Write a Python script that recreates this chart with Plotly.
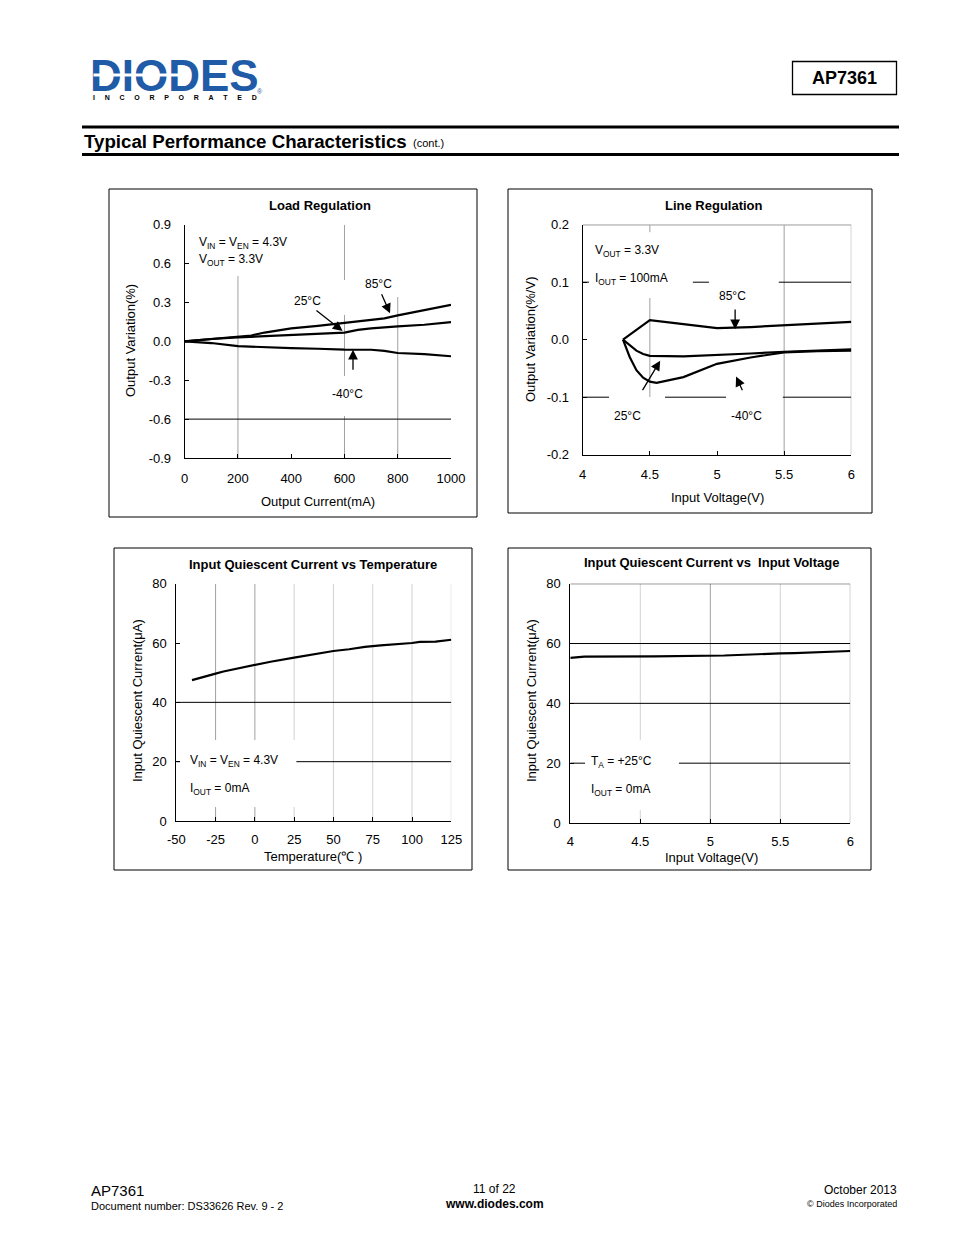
import plotly.graph_objects as go

OFF = 8  # page body margin of the html page
W, H = 954 - OFF, 1235 - OFF
FONT = "Arial, 'Liberation Sans', sans-serif"

# ---------------- data ----------------
# Load Regulation (Output Current mA vs Output Variation %)
load_x_85 = [0, 100, 200, 250, 300, 400, 500, 600, 700, 750, 800, 900, 1000]
load_y_85 = [0, 0.018, 0.031, 0.045, 0.068, 0.100, 0.120, 0.143, 0.162, 0.177, 0.200, 0.243, 0.282]
load_x_25 = [0, 100, 200, 300, 400, 500, 600, 650, 700, 800, 900, 1000]
load_y_25 = [0, 0.018, 0.030, 0.039, 0.047, 0.058, 0.068, 0.088, 0.100, 0.115, 0.128, 0.148]
load_x_m40 = [0, 100, 200, 300, 400, 500, 600, 700, 750, 800, 900, 1000]
load_y_m40 = [0, -0.013, -0.037, -0.047, -0.052, -0.057, -0.064, -0.065, -0.073, -0.090, -0.099, -0.115]

# Line Regulation (Input Voltage V vs Output Variation %/V)
line_x_85 = [4.3, 4.5, 4.75, 5.0, 5.25, 5.5, 5.75, 6.0]
line_y_85 = [0.0, 0.034, 0.027, 0.020, 0.022, 0.025, 0.028, 0.031]
line_x_25 = [4.3, 4.35, 4.4, 4.45, 4.5, 4.75, 5.0, 5.25, 5.5, 5.75, 6.0]
line_y_25 = [0.0, -0.010, -0.019, -0.025, -0.028, -0.029, -0.027, -0.024, -0.021, -0.019, -0.017]
line_x_m40 = [4.3, 4.35, 4.4, 4.45, 4.5, 4.55, 4.75, 5.0, 5.25, 5.5, 5.75, 6.0]
line_y_m40 = [0.0, -0.030, -0.053, -0.066, -0.073, -0.075, -0.065, -0.042, -0.031, -0.022, -0.020, -0.019]

# Input Quiescent Current vs Temperature
temp_c = [-40, -35, -30, -25, -20, -10, 0, 10, 25, 40, 50, 60, 70, 80, 90, 100, 105, 115, 125]
iq_temp = [47.5, 48.3, 49.0, 49.7, 50.4, 51.5, 52.8, 53.7, 55.1, 56.4, 57.3, 57.9, 58.7, 59.2, 59.5, 60.0, 60.4, 60.5, 61.1]

# Input Quiescent Current vs Input Voltage
vin_v = [4.0, 4.1, 4.6, 5.1, 5.5, 5.6, 6.0]
iq_vin = [55.2, 55.6, 55.7, 56.0, 56.7, 56.8, 57.5]

# tick labels
load_xticks = [0, 200, 400, 600, 800, 1000]
load_yticks = [0.9, 0.6, 0.3, 0.0, -0.3, -0.6, -0.9]
load_yticktext = ["0.9", "0.6", "0.3", "0.0", "-0.3", "-0.6", "-0.9"]
line_xticks = [4, 4.5, 5, 5.5, 6]
line_xticktext = ["4", "4.5", "5", "5.5", "6"]
line_yticks = [0.2, 0.1, 0.0, -0.1, -0.2]
line_yticktext = ["0.2", "0.1", "0.0", "-0.1", "-0.2"]
temp_xticks = [-50, -25, 0, 25, 50, 75, 100, 125]
temp_xticktext = ["-50", "-25", "0", "25", "50", "75", "100", "125"]
iq_yticks = [0, 20, 40, 60, 80]
vin_xticks = [4, 4.5, 5, 5.5, 6]
vin_xticktext = ["4", "4.5", "5", "5.5", "6"]

# ---------------- helpers ----------------
def fx(p):
    return (p - OFF) / W

def fy(p):
    return 1 - (p - OFF) / H

# plot areas in page pixels (left, right, top, bottom)
areas = {
    1: (184.7, 451.0, 224.7, 458.0),
    2: (582.7, 851.3, 224.7, 454.7),
    3: (176.3, 451.3, 583.7, 821.0),
    4: (570.3, 850.3, 583.7, 823.0),
}

fig = go.Figure()

def add_line(n, xs, ys):
    fig.add_trace(go.Scatter(
        x=xs, y=ys, mode="lines",
        line=dict(color="black", width=2.2),
        xaxis="x" if n == 1 else f"x{n}",
        yaxis="y" if n == 1 else f"y{n}",
        showlegend=False, hoverinfo="skip"))

add_line(1, load_x_85, load_y_85)
add_line(1, load_x_25, load_y_25)
add_line(1, load_x_m40, load_y_m40)
add_line(2, line_x_85, line_y_85)
add_line(2, line_x_25, line_y_25)
add_line(2, line_x_m40, line_y_m40)
add_line(3, temp_c, iq_temp)
add_line(4, vin_v, iq_vin)

def axis_common():
    return dict(showgrid=False, zeroline=False, showline=True, linecolor="black",
                linewidth=1, ticks="inside", ticklen=4, tickcolor="black",
                automargin=False,
                tickfont=dict(family=FONT, size=13, color="black"))

def set_axes(n, xr, yr, xt, xtt, yt, ytt, xstand, ystand):
    l, r, t, b = areas[n]
    xa = axis_common()
    xa.update(domain=[fx(l), fx(r)], range=xr, tickvals=xt, ticktext=xtt,
              anchor="y" if n == 1 else f"y{n}", ticklabelstandoff=xstand)
    ya = axis_common()
    ya.update(domain=[fy(b), fy(t)], range=yr, tickvals=yt, ticktext=ytt,
              anchor="x" if n == 1 else f"x{n}", ticklabelstandoff=ystand)
    key = "" if n == 1 else str(n)
    fig.update_layout(**{f"xaxis{key}": xa, f"yaxis{key}": ya})

set_axes(1, [0, 1000], [-0.9, 0.9], load_xticks, [str(v) for v in load_xticks],
         load_yticks, load_yticktext, 8, 10)
set_axes(2, [4, 6], [-0.2, 0.2], line_xticks, line_xticktext,
         line_yticks, line_yticktext, 8, 10)
set_axes(3, [-50, 125], [0, 80], temp_xticks, temp_xticktext,
         iq_yticks, [str(v) for v in iq_yticks], 6, 6)
set_axes(4, [4, 6], [0, 80], vin_xticks, vin_xticktext,
         iq_yticks, [str(v) for v in iq_yticks], 6, 6)

shapes = []

def seg(n, x0, y0, x1, y1, color="black", width=1):
    key = "" if n == 1 else str(n)
    shapes.append(dict(type="line", xref=f"x{key}", yref=f"y{key}",
                       x0=x0, y0=y0, x1=x1, y1=y1, layer="below",
                       line=dict(color=color, width=width)))

def pbox(x0, y0, x1, y1, width=1):
    shapes.append(dict(type="rect", xref="paper", yref="paper",
                       x0=fx(x0), y0=fy(y0), x1=fx(x1), y1=fy(y1),
                       line=dict(color="black", width=width)))

def pline(x0, y0, x1, y1, width=1, color="black"):
    shapes.append(dict(type="line", xref="paper", yref="paper",
                       x0=fx(x0), y0=fy(y0), x1=fx(x1), y1=fy(y1),
                       line=dict(color=color, width=width)))

G1 = "#a0a0a0"
G2 = "#d2d2d2"

# chart 1 gridlines
seg(1, 200, 0.504, 200, -0.9, G1)
seg(1, 600, 0.9, 600, 0.473, G1)
seg(1, 600, 0.204, 600, -0.267, G1)
seg(1, 600, -0.576, 600, -0.9, G1)
seg(1, 800, 0.342, 800, -0.9, G1)
seg(1, 0, -0.6, 1000, -0.6)

# chart 2 gridlines
seg(2, 4, 0.2, 6, 0.2)
seg(2, 4.5, 0.2, 4.5, 0.187, G1)
seg(2, 4.5, 0.0725, 4.5, -0.0997, G1)
seg(2, 5.5, 0.2, 5.5, -0.2, G1)
seg(2, 6, 0.2, 6, -0.2, G1)
seg(2, 4, 0.1, 4.047, 0.1)
seg(2, 4.82, 0.1, 4.94, 0.1)
seg(2, 5.46, 0.1, 6, 0.1)
seg(2, 4, -0.1, 4.196, -0.1)
seg(2, 4.613, -0.1, 5.067, -0.1)
seg(2, 5.49, -0.1, 6, -0.1)

# chart 3 gridlines
for xv, c in [(-25, G1), (0, G1), (25, G2)]:
    seg(3, xv, 80, xv, 27.3, c)
    seg(3, xv, 4.7, xv, 0, c)
for xv in [50, 75, 100, 125]:
    seg(3, xv, 80, xv, 0, G2)
seg(3, -50, 40, 125, 40)
seg(3, -50, 20, -47.6, 20)
seg(3, 26.4, 20, 125, 20)

# chart 4 gridlines
seg(4, 4.5, 80, 4.5, 27.7, G2)
seg(4, 4.5, 4.3, 4.5, 0, G2)
seg(4, 5.0, 80, 5.0, 0, G1)
seg(4, 5.5, 80, 5.5, 0, G2)
seg(4, 6.0, 80, 6.0, 0, G1)
seg(4, 4, 80, 6, 80)
seg(4, 4, 60, 6, 60)
seg(4, 4, 40, 6, 40)
seg(4, 4, 20, 4.105, 20)
seg(4, 4.776, 20, 6, 20)

# outer boxes
pbox(109, 189, 477, 517)
pbox(508, 189, 872, 513)
pbox(114, 548, 472, 870)
pbox(508, 548, 871, 870)

# header
pbox(792.5, 61.5, 896.5, 94.5, width=1.3)
pline(82, 127, 899, 127, width=3)
pline(82, 154.5, 899, 154.5, width=3)

fig.update_layout(shapes=shapes)

ann = []

def ptext(x, y, text, size=12, anchor="center", bold=False, color="black", angle=0,
          family=FONT, **kw):
    if bold:
        text = f"<b>{text}</b>"
    d = dict(xref="paper", yref="paper", x=fx(x), y=fy(y), text=text,
             showarrow=False, xanchor=anchor, yanchor="middle",
             textangle=angle, borderpad=0,
             font=dict(family=family, size=size, color=color))
    d.update(kw)
    ann.append(d)

def dtext(n, x, y, text, size=12, anchor="center"):
    key = "" if n == 1 else str(n)
    ann.append(dict(xref=f"x{key}", yref=f"y{key}", x=x, y=y, text=text,
                    showarrow=False, xanchor=anchor, yanchor="middle", borderpad=0,
                    font=dict(family=FONT, size=size, color="black")))

def arrow(n, xt, yt, xh, yh):
    key = "" if n == 1 else str(n)
    ann.append(dict(xref=f"x{key}", yref=f"y{key}", axref=f"x{key}", ayref=f"y{key}",
                    x=xh, y=yh, ax=xt, ay=yt, text="", showarrow=True,
                    arrowhead=2, arrowsize=1.5, arrowwidth=1.3, arrowcolor="black",
                    standoff=0, startstandoff=0))

# chart titles / axis titles
ptext(320, 206, "Load Regulation", 13, bold=True)
ptext(318, 501, "Output Current(mA)", 13)
ptext(131, 341, "Output Variation(%)", 13, angle=-90)
ptext(714, 205, "Line Regulation", 13, bold=True)
ptext(717, 497, "Input Voltage(V)", 13)
ptext(530, 340, "Output Variation(%/V)", 13, angle=-90)
ptext(313, 564, "Input Quiescent Current vs Temperature", 13, bold=True)
ptext(313, 856, "Temperature(℃ )", 13)
ptext(137, 701, "Input Quiescent Current(μA)", 13, angle=-90)
ptext(711, 563, "Input Quiescent Current vs  Input Voltage", 13, bold=True)
ptext(711, 857, "Input Voltage(V)", 13)
ptext(531, 701, "Input Quiescent Current(μA)", 13, angle=-90)

# chart 1 labels
dtext(1, 50, 0.76, "V<sub>IN</sub> = V<sub>EN</sub> = 4.3V", anchor="left")
dtext(1, 50, 0.63, "V<sub>OUT</sub> = 3.3V", anchor="left")
dtext(1, 726, 0.44, "85°C")
dtext(1, 460, 0.314, "25°C")
dtext(1, 613, -0.41, "-40°C")
arrow(1, 737, 0.375, 771, 0.216)
arrow(1, 489, 0.247, 593, 0.08)
arrow(1, 632, -0.231, 632, -0.064)

# chart 2 labels
dtext(2, 4.083, 0.154, "V<sub>OUT</sub> = 3.3V", anchor="left")
dtext(2, 4.083, 0.106, "I<sub>OUT</sub> = 100mA", anchor="left")
dtext(2, 5.112, 0.076, "85°C")
dtext(2, 4.33, -0.133, "25°C")
dtext(2, 5.217, -0.133, "-40°C")
arrow(2, 5.135, 0.055, 5.135, 0.018)
arrow(2, 4.439, -0.0904, 4.577, -0.0365)
arrow(2, 5.194, -0.0904, 5.142, -0.064)

# chart 3 labels
dtext(3, -41.9, 20.2, "V<sub>IN</sub> = V<sub>EN</sub> = 4.3V", anchor="left")
dtext(3, -41.9, 10.8, "I<sub>OUT</sub> = 0mA", anchor="left")

# chart 4 labels
dtext(4, 4.141, 20.4, "T<sub>A</sub> = +25°C", anchor="left")
dtext(4, 4.141, 11.0, "I<sub>OUT</sub> = 0mA", anchor="left")

# header texts
BLUE = "#1f5ba6"
ptext(89, 75.5, "DIODES", 44, anchor="left", bold=True, color=BLUE,
      family="'Liberation Sans', Arial")
# thin white stripe through the logo letters
ptext(93, 74.8, "\u00a0", 1, anchor="left", bgcolor="white", width=94, height=1.6)
ptext(260, 92, "®", 7, color=BLUE)
gap = "\u00a0" * 5
ptext(92, 97.5, gap.join("INCORPORATED"), 7, anchor="left", bold=True)
ptext(844.5, 78, "AP7361", 18, bold=True)
ptext(83, 141, "Typical Performance Characteristics", 18.7, anchor="left", bold=True)
ptext(412, 142.5, "(cont.)", 11, anchor="left")

# footer
ptext(90, 1190, "AP7361", 15, anchor="left")
ptext(90, 1206, "Document number: DS33626 Rev. 9 - 2", 11, anchor="left")
ptext(494, 1189, "11 of 22", 12)
ptext(494, 1204, "www.diodes.com", 12, bold=True)
ptext(898, 1190, "October 2013", 12, anchor="right")
ptext(898, 1204, "© Diodes Incorporated", 9, anchor="right")

fig.update_layout(annotations=ann, width=W, height=H,
                  margin=dict(l=0, r=0, t=0, b=0, pad=0, autoexpand=False),
                  paper_bgcolor="white", plot_bgcolor="white",
                  font=dict(family=FONT, color="black"))

fig.write_html("out.html")
